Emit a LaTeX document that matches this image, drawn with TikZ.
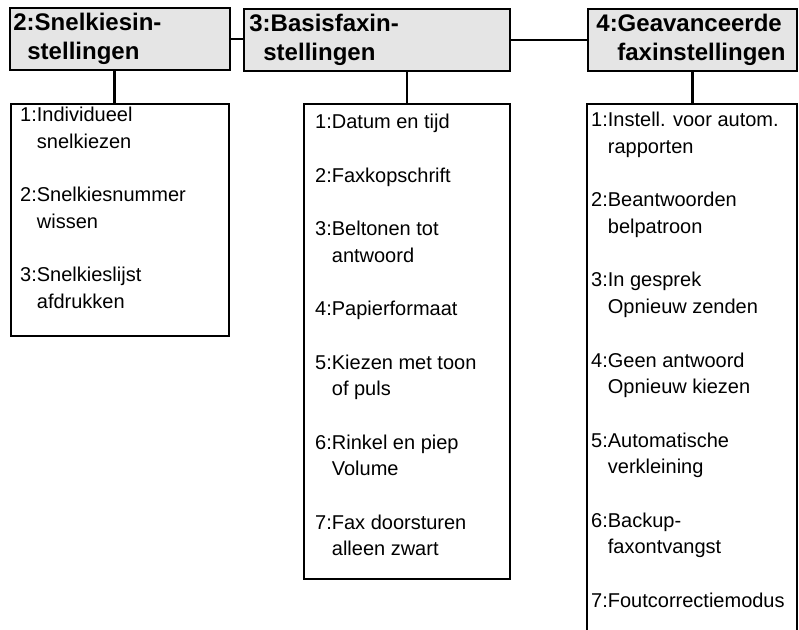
\documentclass[tikz,border=0pt]{standalone}
\usepackage{fontspec}
\setmainfont{Liberation Sans}
\usepackage{tikz}
\usetikzlibrary{positioning}
\definecolor{kop}{HTML}{E5E5E5}

\begin{document}
\begin{tikzpicture}[x=1pt,y=-1pt,
  kopbox/.style={draw,fill=kop,line width=2.8pt,anchor=north west,align=left,
                 minimum height=62pt,inner xsep=3.5pt,inner ysep=0pt,
                 font=\bfseries\fontsize{24}{29}\selectfont},
  menubox/.style={draw,line width=2.8pt,anchor=north west,inner sep=0pt},
  menutxt/.style={anchor=north west,align=left,inner sep=0pt,
                  font=\fontsize{20}{26.7}\selectfont},
  lijn/.style={line width=2.3pt}]
\useasboundingbox (0,0) rectangle (799,629);
\clip (0,0) rectangle (799,629);
% koppen
\node[kopbox,text width=213pt] (h2) at (8.5,6.5) {2:Snelkiesin-\\\hspace*{14pt}stellingen};
\node[kopbox,text width=259pt] (h3) at (242.5,7.5) {\hspace*{2pt}3:Basisfaxin-\\\hspace*{16pt}stellingen};
\node[kopbox,text width=202pt] (h4) at (586.5,7.5) {\hspace*{5pt}4:Geavanceerde\\\hspace*{26pt}faxinstellingen};
% menu's
\node[menubox,minimum width=218pt,minimum height=232pt] (c2) at (9.5,102.5) {};
\node[menubox,minimum width=206pt,minimum height=475pt] (c3) at (302.5,102.5) {};
\node[menubox,minimum width=210pt,minimum height=560pt] (c4) at (585.5,102.5) {};
\node[menutxt] (c2t) at (20,107) {1:Individueel\\\phantom{1:}snelkiezen\\[26.7pt]
  2:Snelkiesnummer\\\phantom{2:}wissen\\[26.7pt]
  3:Snelkieslijst\\\phantom{3:}afdrukken};
\node[menutxt] (c3t) at (315,114) {1:Datum en tijd\\[26.7pt]
  2:Faxkopschrift\\[26.7pt]
  3:Beltonen tot\\\phantom{3:}antwoord\\[26.7pt]
  4:Papierformaat\\[26.7pt]
  5:Kiezen met toon\\\phantom{5:}of puls\\[26.7pt]
  6:Rinkel en piep\\\phantom{6:}Volume\\[26.7pt]
  7:Fax doorsturen\\\phantom{7:}alleen zwart};
\node[menutxt] (c4t) at (591,112) {1:Instell. voor autom.\\\phantom{1:}rapporten\\[26.7pt]
  2:Beantwoorden\\\phantom{2:}belpatroon\\[26.7pt]
  3:In gesprek\\\phantom{3:}Opnieuw zenden\\[26.7pt]
  4:Geen antwoord\\\phantom{4:}Opnieuw kiezen\\[26.7pt]
  5:Automatische\\\phantom{5:}verkleining\\[26.7pt]
  6:Backup-\\\phantom{6:}faxontvangst\\[26.7pt]
  7:Foutcorrectiemodus};
% lijnen
\draw[lijn] (h2.east) -- (h2.east -| h3.west);
\draw[lijn] (h3.east) -- (h3.east -| h4.west);
\draw[lijn] ([xshift=-5.5pt]h2.south) -- ([xshift=-5.5pt]h2.south |- c2.north);
\draw[lijn] (c3.north) -- (c3.north |- h3.south);
\draw[lijn] (h4.south) -- (h4.south |- c4.north);
\end{tikzpicture}
\end{document}
